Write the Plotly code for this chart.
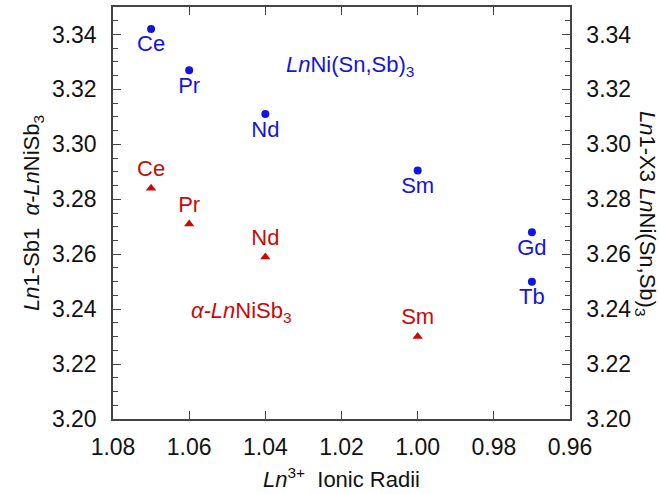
import plotly.graph_objects as go

# Data
blue_labels = ["Ce", "Pr", "Nd", "Sm", "Gd", "Tb"]
blue_radii = [1.07, 1.06, 1.04, 1.00, 0.97, 0.97]
blue_dist = [3.342, 3.327, 3.311, 3.2905, 3.268, 3.250]

red_labels = ["Ce", "Pr", "Nd", "Sm"]
red_radii = [1.07, 1.06, 1.04, 1.00]
red_dist = [3.284, 3.271, 3.259, 3.230]

x_ticks = [1.08, 1.06, 1.04, 1.02, 1.00, 0.98, 0.96]

BLUE = "#1414e0"
RED = "#c80a0a"
FONT = "Liberation Sans"
AX = "#444444"
TXT = "#111111"

W, H = 660, 494
L, R, T, B = 113, 90, 5, 75
pw, ph = W - L - R, H - T - B


def px_x(p):
    return (p - L) / pw


def px_y(p):
    return (H - B - p) / ph


fig = go.Figure()

fig.add_trace(go.Scatter(
    x=red_radii, y=red_dist, mode="markers+text", text=red_labels,
    textposition="top center",
    marker=dict(symbol="triangle-up", size=9, color=RED),
    textfont=dict(family=FONT, size=22, color=RED),
    showlegend=False, yaxis="y", cliponaxis=False,
))
fig.add_trace(go.Scatter(
    x=blue_radii, y=blue_dist, mode="markers+text", text=blue_labels,
    textposition="bottom center",
    marker=dict(symbol="circle", size=8, color=BLUE),
    textfont=dict(family=FONT, size=22, color=BLUE),
    showlegend=False, yaxis="y2", cliponaxis=False,
))

common_y = dict(
    range=[3.20, 3.35], dtick=0.02, tick0=3.20, tickformat=".2f",
    ticks="inside", ticklen=8, tickwidth=1, tickcolor=AX,
    showgrid=False, zeroline=False, showline=True, linecolor=AX, linewidth=1.5,
    tickfont=dict(family=FONT, size=23, color=TXT),
    minor=dict(dtick=0.005, ticks="inside", ticklen=5, tickcolor=AX, showgrid=False),
    ticklabelstandoff=10,
)

fig.update_layout(
    width=W, height=H,
    margin=dict(l=L, r=R, t=T, b=B),
    paper_bgcolor="white", plot_bgcolor="white",
    font=dict(family=FONT, size=22, color=TXT),
    xaxis=dict(
        range=[1.08, 0.96], tickvals=x_ticks, tickformat=".2f",
        ticks="inside", ticklen=8, tickcolor=AX, mirror="ticks",
        showgrid=False, zeroline=False, showline=True, linecolor=AX, linewidth=1.5,
        tickfont=dict(family=FONT, size=23, color=TXT),
        ticklabelstandoff=7,
    ),
    yaxis=dict(side="left", **common_y),
    yaxis2=dict(side="right", overlaying="y", **common_y),
    annotations=[
        dict(text="<i>Ln</i>Ni(Sn,Sb)<sub>3</sub>",
             x=1.08 - (350 - L) / pw * 0.12, y=3.3286, xref="x", yref="y",
             showarrow=False, font=dict(family=FONT, size=22, color=BLUE)),
        dict(text="<i>α-Ln</i>NiSb<sub>3</sub>", x=1.0463, y=3.2388, xref="x", yref="y",
             showarrow=False, font=dict(family=FONT, size=22, color=RED)),
        dict(text="<i>Ln</i><sup>3+</sup>  Ionic Radii",
             x=px_x(341), y=px_y(478), xref="paper", yref="paper",
             xanchor="center", yanchor="middle", showarrow=False,
             font=dict(family=FONT, size=22, color=TXT)),
        dict(text="<i>Ln</i>1-Sb1  <i>α-Ln</i>NiSb<sub>3</sub>", textangle=-90,
             x=px_x(33), y=px_y(212), xref="paper", yref="paper",
             xanchor="center", yanchor="middle", showarrow=False,
             font=dict(family=FONT, size=22, color=TXT)),
        dict(text="<i>Ln</i>1-X3 <i>Ln</i>Ni(Sn,Sb)<sub>3</sub>", textangle=90,
             x=px_x(646), y=px_y(212), xref="paper", yref="paper",
             xanchor="center", yanchor="middle", showarrow=False,
             font=dict(family=FONT, size=22, color=TXT)),
    ],
)

fig.write_html(
    "out.html",
    config={"displayModeBar": False},
    post_script="document.body.style.margin='0';document.body.style.overflow='hidden';",
)
